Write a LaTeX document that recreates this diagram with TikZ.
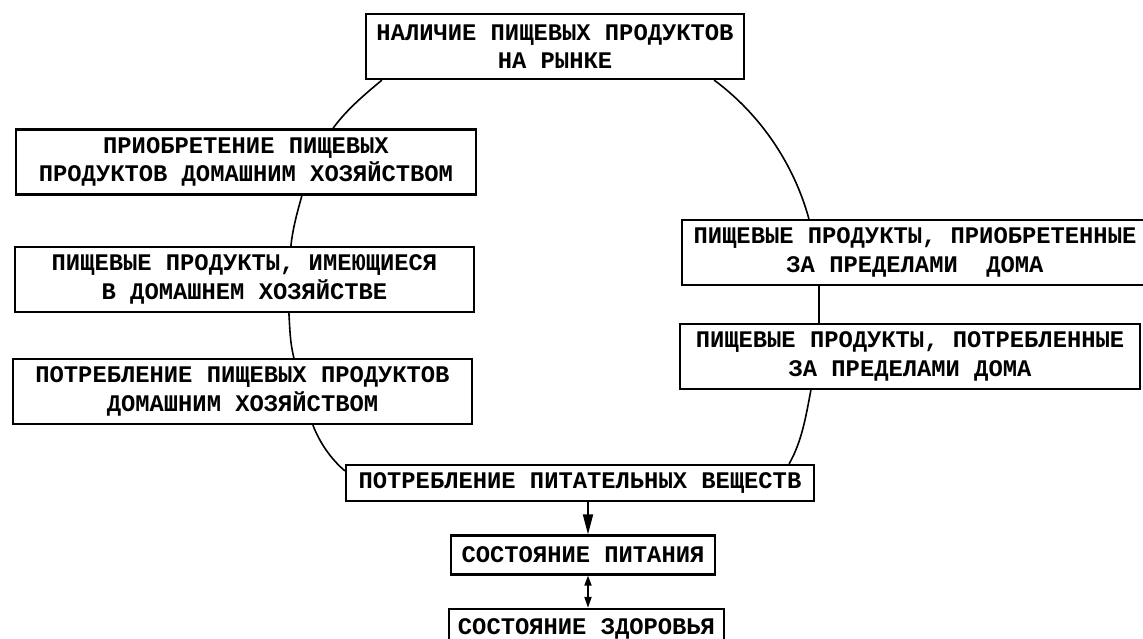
\documentclass[tikz,border=0pt]{standalone}
\usepackage{fontspec}
\newfontfamily\tw{Liberation Mono}
\usetikzlibrary{arrows.meta,calc}
\begin{document}
\begin{tikzpicture}[x=1pt,y=-1pt,
  box/.style={draw,line width=2.2pt,font=\tw\bfseries\fontsize{23.8}{28.5}\selectfont,align=center,inner sep=0pt,minimum height=65pt},
  link/.style={line width=1.6pt},
  arr/.style={line width=1.8pt}]
\useasboundingbox (0,0) rectangle (1143,639);
\node[box,minimum width=378pt] (top) at (555,46.5) {НАЛИЧИЕ ПИЩЕВЫХ ПРОДУКТОВ\\НА РЫНКЕ};
\node[box,minimum width=460pt] (L1) at (246,162) {ПРИОБРЕТЕНИЕ ПИЩЕВЫХ\\ПРОДУКТОВ ДОМАШНИМ ХОЗЯЙСТВОМ};
\node[box,minimum width=459pt] (L2) at (244.5,279.5) {ПИЩЕВЫЕ ПРОДУКТЫ, ИМЕЮЩИЕСЯ\\В ДОМАШНЕМ ХОЗЯЙСТВЕ};
\node[box,minimum width=459pt] (L3) at (242.5,391.5) {ПОТРЕБЛЕНИЕ ПИЩЕВЫХ ПРОДУКТОВ\\ДОМАШНИМ ХОЗЯЙСТВОМ};
\node[box,minimum width=466pt] (R1) at (915,252.5) {ПИЩЕВЫЕ ПРОДУКТЫ, ПРИОБРЕТЕННЫЕ\\ЗА ПРЕДЕЛАМИ\ \ ДОМА};
\node[box,minimum width=460pt] (R2) at (910,356.5) {ПИЩЕВЫЕ ПРОДУКТЫ, ПОТРЕБЛЕННЫЕ\\ЗА ПРЕДЕЛАМИ ДОМА};
\node[box,minimum width=468pt,minimum height=36pt] (B) at (580,483) {ПОТРЕБЛЕНИЕ ПИТАТЕЛЬНЫХ ВЕЩЕСТВ};
\node[box,minimum width=264pt,minimum height=39pt] (S1) at (583,555) {СОСТОЯНИЕ ПИТАНИЯ};
\node[box,minimum width=275pt,minimum height=40pt] (S2) at (586.5,629) {СОСТОЯНИЕ ЗДОРОВЬЯ};
\coordinate (ax) at (588,0);
% cycle
\draw[link] ($(top.south west)+(17,0)$) .. controls +(-18,15) and +(14,-19) .. ($(L1.north west)+(318,0)$);
\draw[link] ($(L1.south west)+(287,0)$) .. controls +(-5,18) and +(2,-18) .. ($(L2.north west)+(277,0)$);
\draw[link] ($(L2.south west)+(275,0)$) .. controls +(1,16) and +(-4,-16) .. ($(L3.north west)+(282,0)$);
\draw[link] ($(L3.south west)+(301,0)$) .. controls +(7,18) and +(-14,-12) .. ($(B.north west)+(0,7)$);
\draw[link] ($(top.south east)+(-31,0)$) .. controls +(46,34) and +(-15,-55) .. ($(R1.north west)+(128,0)$);
\draw[link] ($(R1.south west)+(138,0)$) -- ($(R2.north west)+(140,0)$);
\draw[link] ($(R2.south west)+(132,0)$) .. controls +(-5,26) and +(13,-23) .. ($(B.north east)+(-26,0)$);
% arrows
\draw[arr,-{Triangle[length=20pt,width=10pt]}] (B.south -| ax) -- (S1.north -| ax);
\draw[arr,{Triangle[length=10pt,width=7pt]}-{Triangle[length=11pt,width=7pt]}] (S1.south -| ax) -- (S2.north -| ax);
\end{tikzpicture}
\end{document}
